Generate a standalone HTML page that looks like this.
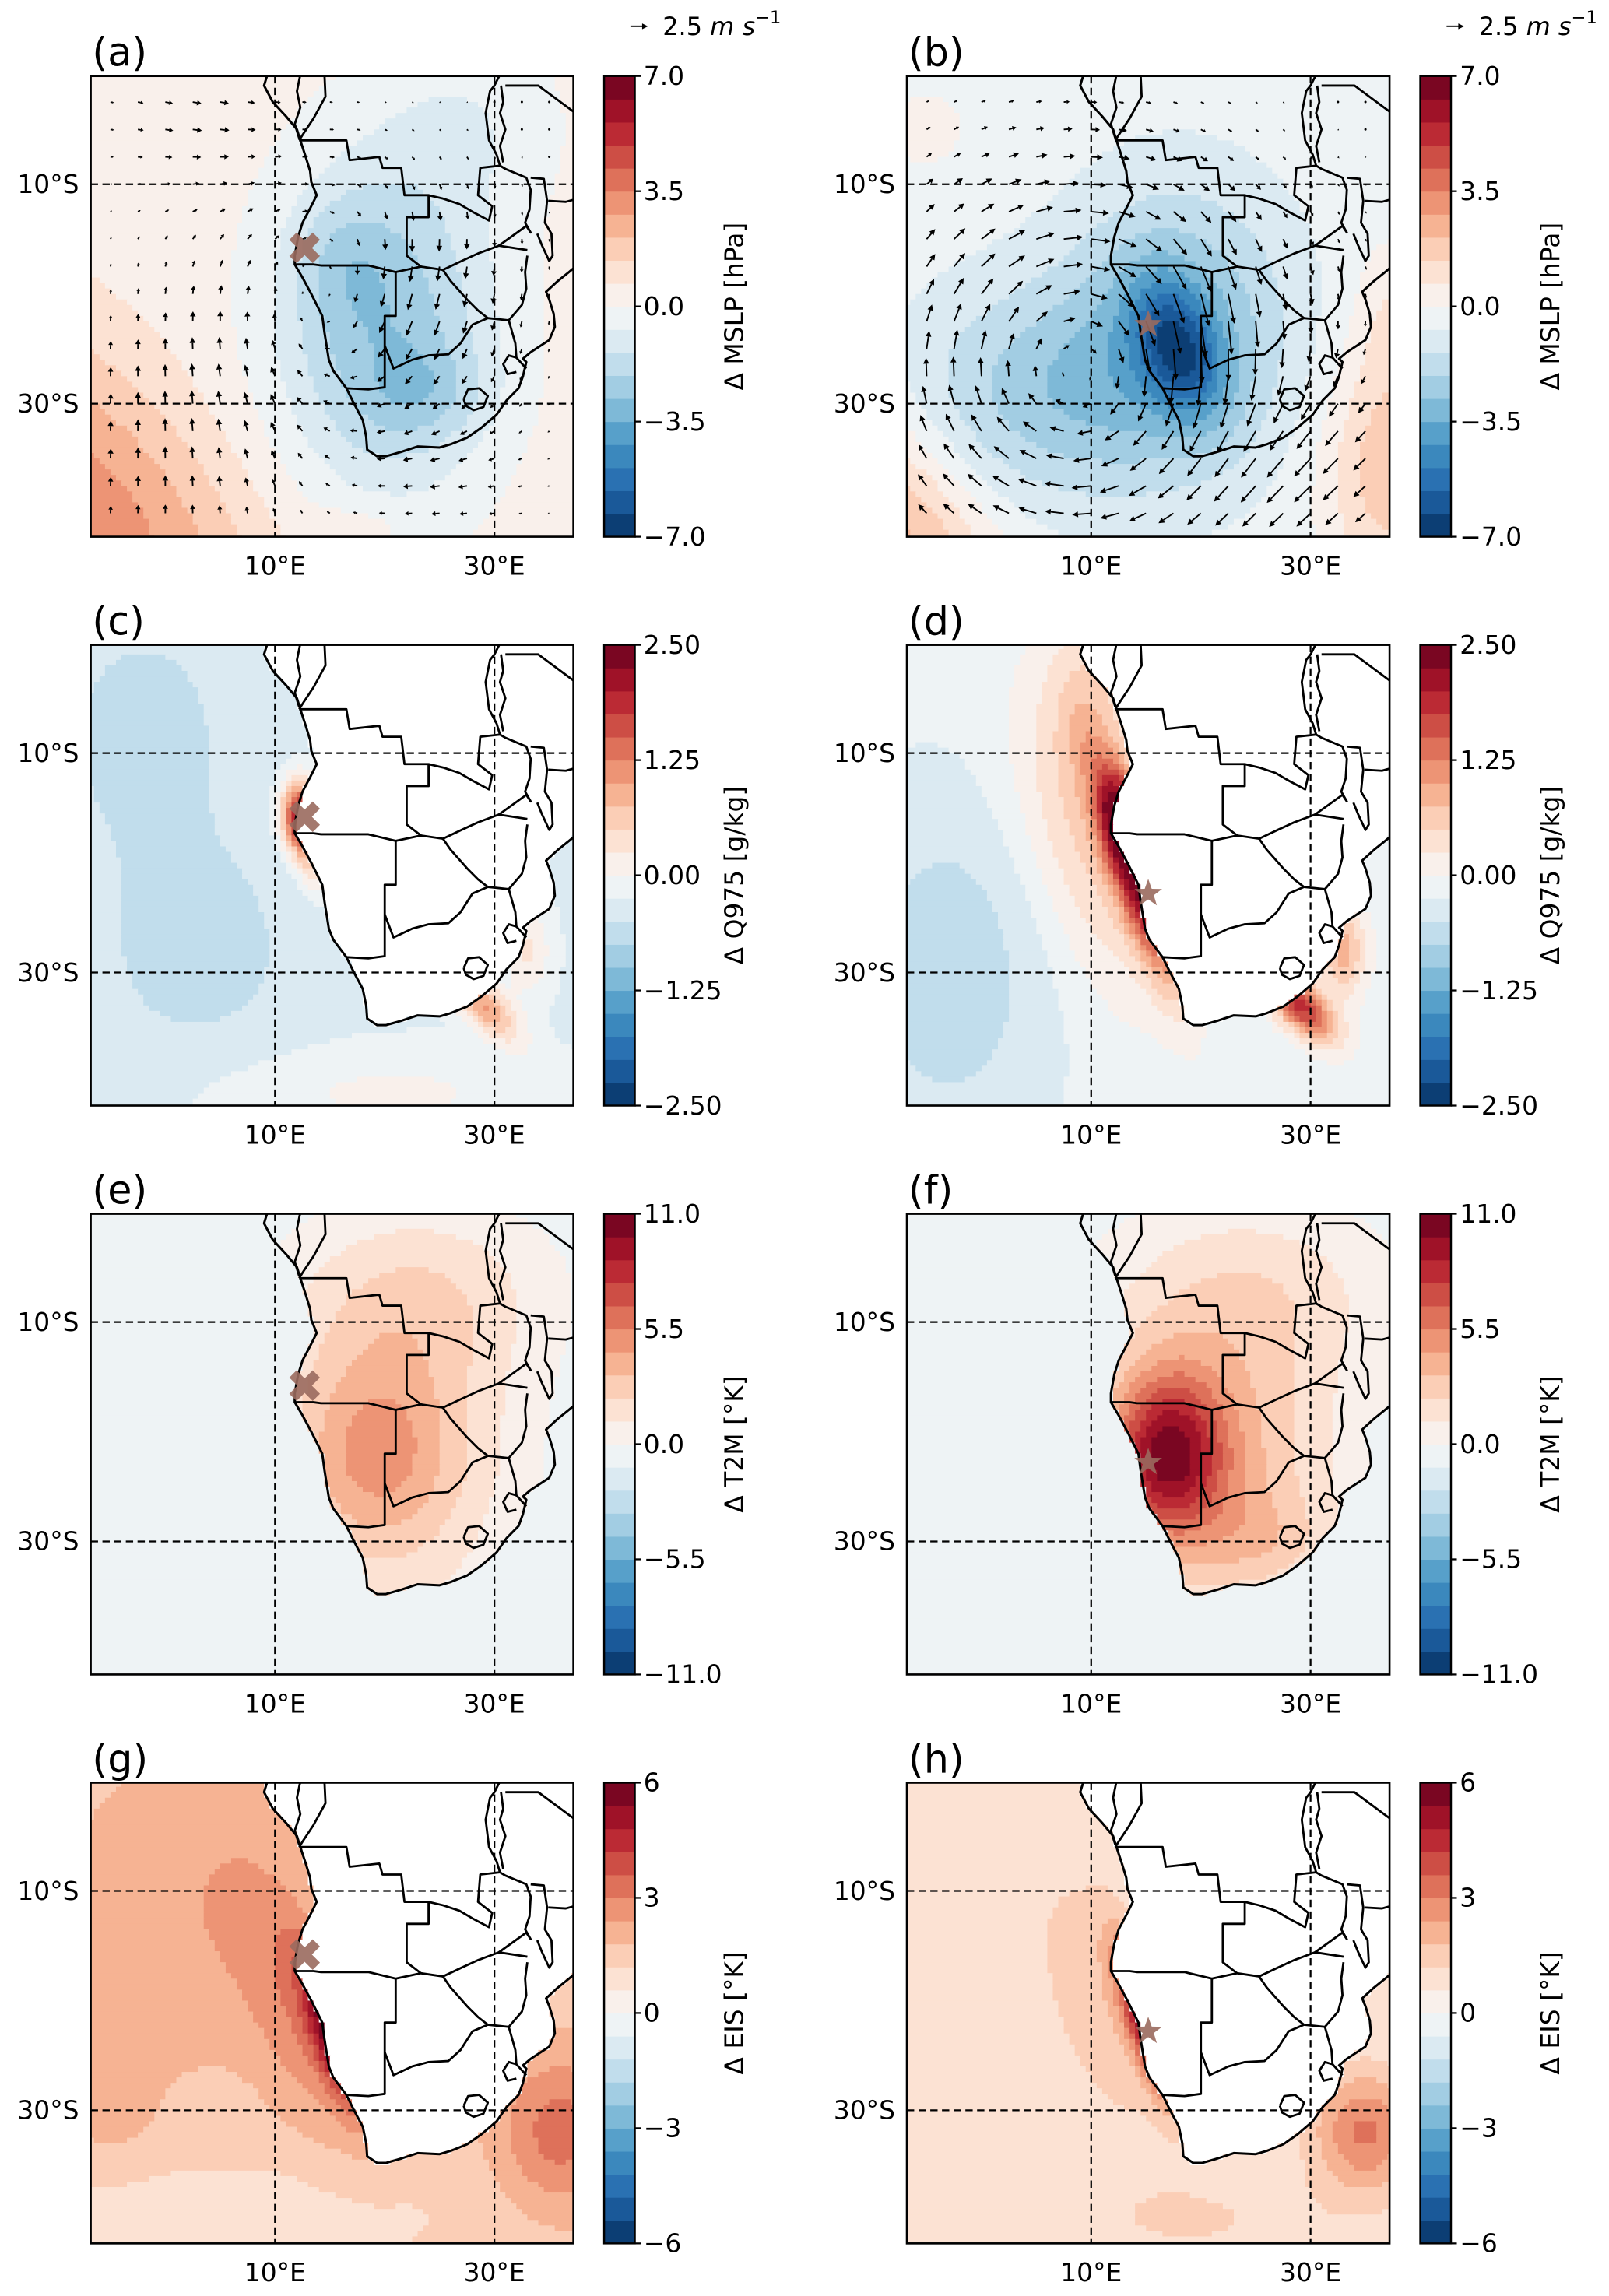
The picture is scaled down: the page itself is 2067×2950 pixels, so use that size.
<!DOCTYPE html>
<html><head><meta charset="utf-8"><style>
html,body{margin:0;padding:0;background:#fff}
svg{display:block}
text{font-family:"DejaVu Sans","Liberation Sans",sans-serif;fill:#000}
</style></head><body>
<svg id="fig" width="2067" height="2950" viewBox="0 0 1100 1570" xmlns="http://www.w3.org/2000/svg"></svg>
<script>
// ---------- data ----------
const rowVmax = [7, 2.5, 11, 6];
const rowTicks = [["7.0","3.5","0.0","\u22123.5","\u22127.0"],["2.50","1.25","0.00","\u22121.25","\u22122.50"],["11.0","5.5","0.0","\u22125.5","\u221211.0"],["6","3","0","\u22123","\u22126"]];
const rowLabels = ["\u0394 MSLP [hPa]","\u0394 Q975 [g/kg]","\u0394 T2M [\u00b0K]","\u0394 EIS [\u00b0K]"];
const panelLetters = ["a","b","c","d","e","f","g","h"];
const panelBase = [0.35, -0.35, -0.3, -0.15, -0.9, -0.8, 1.5, 0.6];
// blobs: [lon, lat, amplitude, sx, sy, rotDeg, mask(0 all,1 land,2 ocean)]
const blobsA = [[20,-23,-3.0,7,11,0,0],[24,-29,-1.0,4,3,0,0],[16,-17,-0.8,3,4,0,0],[28,-4,-0.8,6,6,0,0],[-7,-40,2.8,8,16,40,0],[18,-41,0.5,3,1.5,0,0]];
const blobsB = [[18,-25,-3.5,2.5,4.5,20,0],[18,-23,-2.5,7,9,0,0],[6,-29,-2.0,9,7,0,0],[-7,-42,2.6,5,9,30,0],[37,-36,2.2,4,8,0,0],[37,-22,0.8,2,5,0,0],[-5,-5,0.6,3,3,0,0]];
const blobsC = [[-2,-8,-0.3,6,8,0,0],[3,-28,-0.3,7,8,0,0],[12.3,-15.5,2.2,1.2,2.2,0,0],[13,-19.5,0.8,1,2.5,18,0],[29,-33,1.3,3,1.3,-45,0],[33,-28,0.6,1.5,3,0,0],[20,-41,0.35,12,3,0,0]];
const blobsD = [[-3,-30,-0.5,7,12,0,0],[14,-21,2.2,1.4,7,18,0],[12.6,-15,1.0,1.2,3,0,0],[10,-19,0.7,4,10,18,0],[10,-5,0.6,3,6,0,0],[29,-33,2.0,3,1.4,-45,0],[33,-28,1.0,1.5,3,0,0]];
const blobsE = [[20,-22,4.5,8,10,0,1],[19,-22,1.5,4,5,0,1],[24,-7,2.2,9,6,0,1],[30,-40,0.8,8,4,0,0]];
const blobsF = [[17,-22,7.5,3.5,5,0,1],[20,-23,4.5,9,10,0,1],[26,-30,1.5,4,3,0,1],[25,-7,2.2,9,6,0,1],[5,-20,-0.3,6,8,0,0]];
const blobsG = [[2,-12,0.8,8,10,0,0],[15,-23,3.5,1.2,5,18,0],[12,-21,1.2,3,9,18,0],[36,-32,1.8,4,5,0,0],[5,-40,-0.7,15,4,0,0],[-5,-30,0.5,3,4,0,0]];
const blobsH = [[15,-22,4.5,1.2,5,18,0],[11,-20,1.0,4,10,18,0],[35,-32,2.5,3.5,4,0,0],[-5,-5,0.4,4,4,0,0],[20,-40,0.6,10,3,0,0]];
const panelBlobs = [blobsA,blobsB,blobsC,blobsD,blobsE,blobsF,blobsG,blobsH];
const panelMaskLand = [false,false,true,true,false,false,true,true];
// wind: vortices [lon,lat,strength,radius] (clockwise), jets [lon,lat,u,v,radius]
const windVortA = [[17,-22,0.9,9]];
const windJetA = [[22,-19,-0.9,-1.6,6],[0,-33,0.1,1.6,9],[3,-4,1.2,-0.3,6],[26,-38,-1.0,0,5]];
const windVortB = [[9,-27,2.8,11]];
const windJetB = [[20,-22,-0.3,-2.5,5],[31,-36,-2,-1.5,6]];
const markerLonLat = [[12.7,-15.8],[15.2,-22.8]];
const coast = [[9.3,1],[9.3,0],[9.0,-1],[9.8,-2.5],[11,-3.8],[12,-5],[12.3,-6],[12.8,-7.5],[13.2,-8.8],[13.3,-9.8],[13.8,-11],[13.2,-12.2],[12.5,-13.5],[12.1,-14.8],[11.8,-16.5],[11.8,-17.3],[12.5,-18.5],[13.3,-20],[14.3,-22],[14.5,-23.5],[14.9,-26],[15.3,-27],[16.5,-28.6],[17.2,-30],[18,-31.5],[18.3,-33],[18.4,-34.2],[19.3,-34.8],[20.1,-34.8],[21.5,-34.4],[23,-33.9],[25,-34],[26,-33.7],[27.5,-33.1],[28.8,-32.2],[30.2,-31],[31.1,-29.7],[32.2,-28.6],[32.6,-27.5],[32.9,-26.2],[32.6,-25.9],[33.3,-25.3],[35,-24.2],[35.5,-23],[35.4,-21.8],[35,-20.5],[34.7,-19.8],[35.8,-18.8],[36.8,-18],[38,-17],[38,1]];
const borders = [
 [[12.3,0],[12,-1.5],[12.3,-3],[11.8,-4.5],[12.2,-5.8]],
 [[14.5,0],[14.6,-2],[13.5,-4],[12.5,-5.5],[12.2,-6]],
 [[12.2,-6],[16.5,-6],[16.8,-7.8],[19.5,-7.5],[19.8,-8.5],[21.5,-8.5],[21.8,-11],[24,-11],[24,-13],[22,-13],[22,-16.5],[23.3,-17.5]],
 [[11.8,-17.3],[13.5,-17.3],[14.2,-17.4],[18.5,-17.4],[21,-18],[23.3,-17.5],[25.3,-17.8]],
 [[21,-18],[21,-22],[20,-22],[20,-28.5],[18.5,-28.7],[16.5,-28.6]],
 [[20,-24.7],[20.8,-26.8],[22.5,-26],[24,-25.6],[25.8,-25.5],[26.9,-24.5],[28,-22.8],[29.4,-22.2]],
 [[25.3,-17.8],[26,-18.8],[27.5,-20.5],[28.5,-21.5],[29.4,-22.2]],
 [[25.3,-17.8],[27,-17],[28.5,-16.3],[30.4,-15.6],[33,-16]],
 [[29.4,-22.2],[31.3,-22.4],[32.5,-21],[32.9,-19.5],[32.8,-18],[33,-16.5]],
 [[31.3,-22.4],[31.9,-24.5],[32,-25.8],[32.9,-26.8]],
 [[32,-25.8],[31.3,-25.6],[30.8,-26.4],[31.2,-27.3],[32,-27.1]],
 [[27.2,-29.6],[27.6,-28.7],[28.6,-28.6],[29.4,-29.3],[29,-30.3],[28.1,-30.6],[27.4,-30.2],[27.2,-29.6]],
 [[24,-11],[25.3,-11.3],[26.8,-11.8],[28,-12.5],[29.5,-13.3],[29.8,-12],[28.5,-11],[28.7,-8.5],[30.5,-8.3]],
 [[30.4,-15.6],[32.9,-13.8],[33.3,-14.4],[32.8,-13.5],[33.2,-12.3],[33.3,-10.5],[32.9,-9.4],[31,-8.6],[30.5,-8.3]],
 [[33.3,-9.4],[34.5,-9.5],[34.8,-11.5],[34.6,-13.5],[35.2,-14.5],[35.3,-16.5],[35,-17],[34.3,-15.5],[33.9,-14.5]],
 [[34.9,-11.5],[36.5,-11.6],[38,-11.2]],
 [[30.5,0],[30,-1],[29.6,-1.5],[29.2,-3.5],[29.5,-6],[30.2,-7.3],[30.5,-8.3]],
 [[31,-1],[34,-1],[37.5,-3.6]],
 [[30.6,-1],[30.8,-2.5],[30.5,-3.5],[31,-5],[30.5,-6.5],[30.8,-8]]
];
const latTicks = [-10,-30], lonTicks = [10,30];
const rdbu = ['#053061','#2166ac','#4393c3','#92c5de','#d1e5f0','#f7f7f7','#fddbc7','#f4a582','#d6604d','#b2182b','#67001f'];

// ---------- helpers ----------
const NS='http://www.w3.org/2000/svg';
const svg=document.getElementById('fig');
function mk(tag,attrs,parent){const e=document.createElementNS(NS,tag);for(const k in attrs)e.setAttribute(k,attrs[k]);(parent||svg).appendChild(e);return e;}
const colX=[62,620], rowY=[52,441,830,1219], PW=330, PH=315;
function px(c,lon){return colX[c]+126+(lon-10)*7.5;}
function py(r,lat){return rowY[r]+74+(-10-lat)*7.5;}
function hex(h){return [1,3,5].map(i=>parseInt(h.substr(i,2),16));}
function cmap(t){const s=t*10;let i=Math.min(9,Math.floor(s));const f=s-i;const a=hex(rdbu[i]),b=hex(rdbu[i+1]);return 'rgb('+a.map((v,k)=>Math.round(v+(b[k]-v)*f)).join(',')+')';}
const bandCols=[];for(let i=0;i<20;i++)bandCols.push(cmap((i+0.5)/20));
function inLand(lon,lat){let ins=false;for(let i=0,j=coast.length-1;i<coast.length;j=i++){const xi=coast[i][0],yi=coast[i][1],xj=coast[j][0],yj=coast[j][1];if(((yi>lat)!=(yj>lat))&&(lon<(xj-xi)*(lat-yi)/(yj-yi)+xi))ins=!ins;}return ins;}
function field(p,lon,lat,land){let v=panelBase[p];for(const b of panelBlobs[p]){if(b[6]==1&&!land)continue;if(b[6]==2&&land)continue;const dx=lon-b[0],dy=lat-b[1],th=b[5]*Math.PI/180;const u=dx*Math.cos(th)+dy*Math.sin(th),w=-dx*Math.sin(th)+dy*Math.cos(th);v+=b[2]*Math.exp(-0.5*(u*u/(b[3]*b[3])+w*w/(b[4]*b[4])));}return v;}
function wind(vort,jets,lon,lat){let u=0,v=0;for(const c of vort){const dx=lon-c[0],dy=lat-c[1],r=Math.hypot(dx,dy)+1e-6,R=c[3];const f=c[2]*(r/R)*Math.exp(0.5*(1-r*r/(R*R)));u+=f*dy/r;v+=-f*dx/r;}for(const j of jets){const g=Math.exp(-0.5*((lon-j[0])**2+(lat-j[1])**2)/(j[4]*j[4]));u+=j[2]*g;v+=j[3]*g;}return [u,v];}

// ---------- draw ----------
const defs=mk('defs',{});
for(let p=0;p<8;p++){
  const c=p%2, r=Math.floor(p/2);
  const cp=mk('clipPath',{id:'clip'+p},defs);mk('rect',{x:colX[c],y:rowY[r],width:PW,height:PH},cp);
  const g=mk('g',{'clip-path':'url(#clip'+p+')'});
  
  
  const vmax=rowVmax[r], step=vmax/10;
  for(let lat=0.5;lat>-43;lat-=0.5){
    let runStart=null,runCol=null;
    const flush=(endLon)=>{if(runCol===null)return;const x0=px(c,runStart),x1=px(c,endLon);const e=mk('rect',{x:x0.toFixed(2),y:py(r,lat).toFixed(2),width:(x1-x0+0.4).toFixed(2),height:'4.15',fill:runCol},g);};
    for(let lon=-7.5;lon<38;lon+=0.5){
      const cl=lon+0.25, ct=lat-0.25, land=inLand(cl,ct);
      let col;
      if(land&&panelMaskLand[p]) col='#ffffff';
      else{const v=field(p,cl,ct,land);let i=Math.floor((v+vmax)/step);i=Math.max(0,Math.min(19,i));col=bandCols[i];}
      if(col!==runCol){flush(lon);runStart=lon;runCol=col;}
    }
    flush(38);
  }
  const cpts=coast.map(q=>px(c,q[0]).toFixed(1)+','+py(r,q[1]).toFixed(1)).join(' ');
  const ce=mk('polyline',{points:cpts,fill:'none',stroke:'#000','stroke-width':1.6,'stroke-linejoin':'round'},g);
  
  for(const b of borders){const be=mk('polyline',{points:b.map(q=>px(c,q[0]).toFixed(1)+','+py(r,q[1]).toFixed(1)).join(' '),fill:'none',stroke:'#000','stroke-width':1.5,'stroke-linejoin':'round'},g);
    }
  for(const lt of latTicks){const l=mk('line',{x1:colX[c],x2:colX[c]+PW,y1:py(r,lt),y2:py(r,lt),stroke:'#000','stroke-width':1.2,'stroke-dasharray':'5,3'},g);}
  for(const ln of lonTicks){const l=mk('line',{x1:px(c,ln),x2:px(c,ln),y1:rowY[r],y2:rowY[r]+PH,stroke:'#000','stroke-width':1.2,'stroke-dasharray':'5,3'},g);}
  if(r===0){
    const vort=c===0?windVortA:windVortB, jets=c===0?windJetA:windJetB;
    for(let lat=-2.5;lat>=-40;lat-=2.5)for(let lon=-5;lon<=35;lon+=2.5){
      const w=wind(vort,jets,lon,lat);const sc=4.8;
      const x0=px(c,lon),y0=py(r,lat),dx=w[0]*sc,dy=-w[1]*sc,L=Math.hypot(dx,dy);
      const a=mk('g',{},g);
      if(L<0.8){mk('circle',{cx:x0,cy:y0,r:0.8,fill:'#000'},a);continue;}
      const ux=dx/L,uy=dy/L,hl=Math.min(4,L*0.5),hw=Math.min(2,L*0.3);
      const x1=x0+dx,y1=y0+dy;
      mk('line',{x1:x0,y1:y0,x2:x1-ux*hl,y2:y1-uy*hl,stroke:'#000','stroke-width':1},a);
      mk('polygon',{points:[x1,y1,x1-ux*hl-uy*hw,y1-uy*hl+ux*hw,x1-ux*hl+uy*hw,y1-uy*hl-ux*hw].map(v=>v.toFixed(1)).join(','),fill:'#000'},a);
    }
  }
  const m=markerLonLat[c], mx=px(c,m[0]), my=py(r,m[1]);
  if(c===0){const xm=mk('path',{d:`M${mx-8},${my-8}L${mx+8},${my+8}M${mx+8},${my-8}L${mx-8},${my+8}`,stroke:'#9a6a5e','stroke-width':7,'stroke-opacity':0.9},g);}
  else{let pts=[];for(let k=0;k<10;k++){const rr=k%2?4:10,an=-Math.PI/2+k*Math.PI/5;pts.push((mx+rr*Math.cos(an)).toFixed(1)+','+(my+rr*Math.sin(an)).toFixed(1));}
    const st=mk('polygon',{points:pts.join(' '),fill:'#9a6a5e','fill-opacity':0.9},g);}
  const fr=mk('rect',{x:colX[c],y:rowY[r],width:PW,height:PH,fill:'none',stroke:'#000','stroke-width':1.4});
  
  for(const lt of latTicks){const t=mk('text',{x:colX[c]-8,y:py(r,lt)+6,'font-size':17.5,'text-anchor':'end'});t.textContent=(-lt)+'\u00b0S';}
  for(const ln of lonTicks){const t=mk('text',{x:px(c,ln),y:rowY[r]+PH+26,'font-size':17.5,'text-anchor':'middle'});t.textContent=ln+'\u00b0E';}
  const lt=mk('text',{x:colX[c]+1,y:rowY[r]-7,'font-size':27});lt.textContent='('+panelLetters[p]+')';
  
  const cbx=colX[c]+351, cby=rowY[r];
  const cb=mk('g',{});
  for(let i=0;i<20;i++){const e=mk('rect',{x:cbx,y:(cby+PH-(i+1)*PH/20).toFixed(2),width:21,height:(PH/20+0.3).toFixed(2),fill:bandCols[i]},cb);}
  mk('rect',{x:cbx,y:cby,width:21,height:PH,fill:'none',stroke:'#000','stroke-width':1.3},cb);
  rowTicks[r].forEach((tk,i)=>{const yy=cby+i*PH/4;mk('line',{x1:cbx+21,x2:cbx+25,y1:yy,y2:yy,stroke:'#000','stroke-width':1.2},cb);
    const t=mk('text',{x:cbx+27,y:yy+6,'font-size':17.5},cb);t.textContent=tk;});
  const lx=cbx+95, ly=cby+PH/2;
  const cl=mk('text',{x:lx,y:ly,'font-size':17.5,'text-anchor':'middle',transform:`rotate(-90 ${lx} ${ly})`});cl.textContent=rowLabels[r];
  
  if(r===0){const kx=colX[c]+369;const qk=mk('g',{});
    mk('line',{x1:kx,x2:kx+9,y1:18,y2:18,stroke:'#000','stroke-width':1},qk);mk('polygon',{points:`${kx+12},18 ${kx+8},16 ${kx+8},20`,fill:'#000'},qk);
    const t=mk('text',{x:kx+22,y:24,'font-size':17});
    qk.appendChild(t);
    t.innerHTML='2.5 <tspan font-style="italic">m s</tspan><tspan dy="-8" font-size="12">\u22121</tspan>';}
}
</script>
</body></html>
